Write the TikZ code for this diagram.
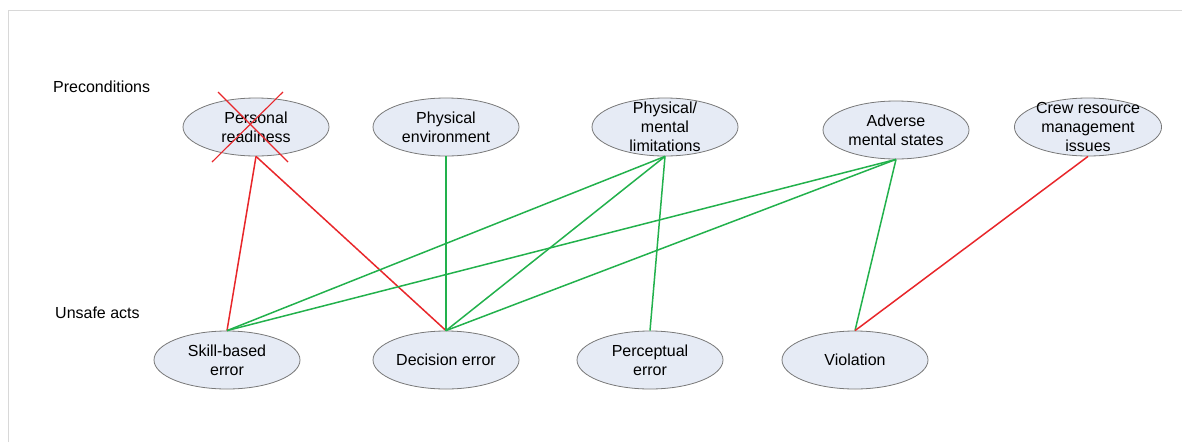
\documentclass[tikz,border=0pt]{standalone}
\usepackage{fontspec}
\setmainfont{Liberation Sans}
\usetikzlibrary{shapes.geometric, positioning}
\definecolor{ovalfill}{RGB}{230,235,245}
\definecolor{ovalline}{RGB}{120,120,120}
\definecolor{linkgreen}{RGB}{34,177,76}
\definecolor{linkred}{RGB}{232,38,42}
\definecolor{framegray}{RGB}{216,216,216}

\begin{document}
\begin{tikzpicture}[
			x=1pt, y=-1pt, on grid,
			font=\fontsize{16}{19}\selectfont,
			factor/.style={ellipse, draw=ovalline, fill=ovalfill, line width=0.8pt,
				minimum width=146pt, minimum height=58pt,
				inner xsep=0pt, inner ysep=-14pt, align=center},
			level/.style={anchor=west, inner sep=0pt},
			ok/.style={linkgreen, line width=1.5pt},
			bad/.style={linkred, line width=1.5pt}
			]
			\useasboundingbox (0,0) rectangle (1182,442);
			\draw[framegray] (8,442) |- (1182,10);
			% level labels
			\node[level] (pre) at (53,87) {Preconditions};
			\node[level] (uns) at (55,313) {Unsafe acts};
			% preconditions
			\node[factor] (rdy) at (256,127) {Personal\\readiness};
			\node[factor] (env) [right=190pt of rdy] {Physical\\environment};
			\node[factor] (lim) [right=219pt of env] {Physical/\\mental\\limitations};
			\node[factor] (adv) at (896,130) {Adverse\\mental states};
			\node[factor] (crm) at (1088,127) {Crew resource\\management\\issues};
			% unsafe acts
			\node[factor] (skl) at (227,360) {Skill-based\\error};
			\node[factor] (dec) [right=219pt of skl] {Decision error};
			\node[factor] (per) [right=204pt of dec] {Perceptual\\error};
			\node[factor] (vio) [right=205pt of per] {Violation};
			% links
			\draw[bad] (rdy.south) -- (skl.north);
			\draw[bad] (rdy.south) -- (dec.north);
			\draw[ok] (env.south) -- (dec.north);
			\draw[ok] (lim.south) -- (skl.north);
			\draw[ok] (lim.south) -- (dec.north);
			\draw[ok] (lim.south) -- (per.north);
			\draw[ok] (adv.south) -- (skl.north);
			\draw[ok] (adv.south) -- (dec.north);
			\draw[ok] (adv.south) -- (vio.north);
			\draw[bad] (crm.south) -- (vio.north);
			% crossed out
			\draw[linkred, line width=1.1pt]
			([shift={(-38,-35)}]rdy.center) -- ([shift={(32,35)}]rdy.center)
			([shift={(27,-35)}]rdy.center) -- ([shift={(-44,35)}]rdy.center);
		\end{tikzpicture}
\end{document}
